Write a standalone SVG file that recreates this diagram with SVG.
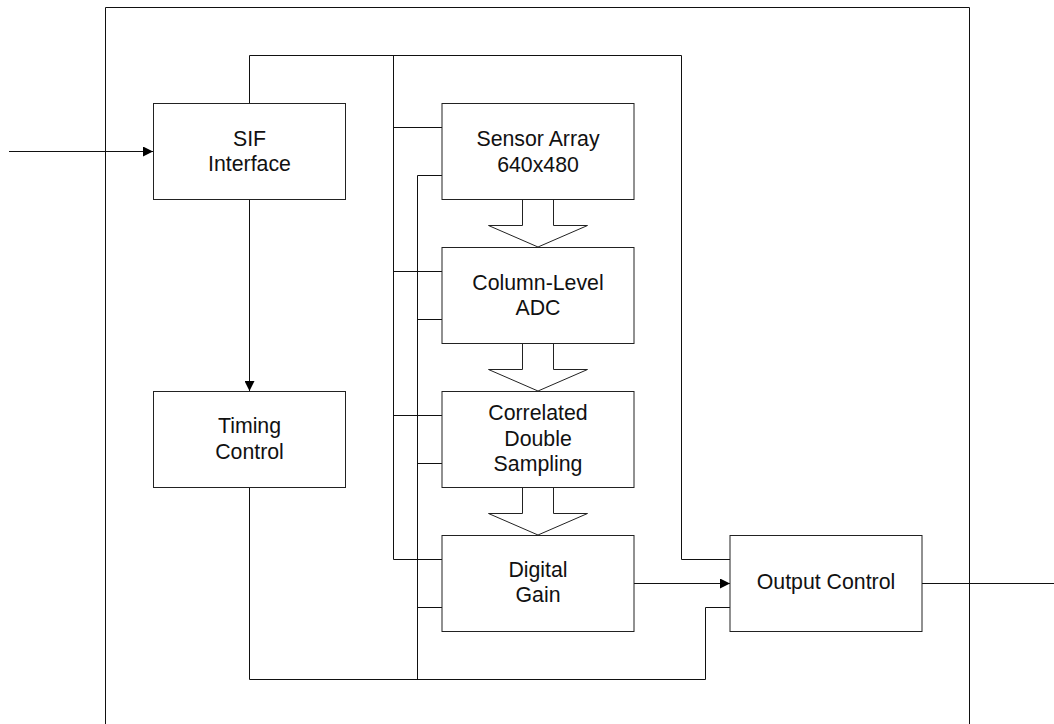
<svg xmlns="http://www.w3.org/2000/svg" width="1054" height="724" viewBox="0 0 1054 724">
<defs>
<style>
.box{fill:#fff;stroke:#222;stroke-width:1}
.w{fill:none;stroke:#111;stroke-width:1}
.ba{fill:#fff;stroke:#222;stroke-width:1;stroke-linejoin:miter}
text{font-family:"Liberation Sans",Arial,sans-serif;font-size:21.3px;fill:#111;text-anchor:middle}
</style>
<marker id="ah" viewBox="0 0 10 10" refX="10" refY="5" markerWidth="10" markerHeight="10" markerUnits="userSpaceOnUse" orient="auto">
<path d="M0,0 L10,5 L0,10 z" fill="#000"/>
</marker>
</defs>
<rect x="0" y="0" width="1054" height="724" fill="#fff"/>
<g id="frame">
<path class="w" d="M105.5,730 V7.5 H969.5 V730"/>
</g>
<g id="connectors">
<path class="w" d="M9,151.5 H153" marker-end="url(#ah)"/>
<path class="w" d="M249.5,103 V55.5 H681.5 V559.5 H730"/>
<path class="w" d="M393.5,55.5 V559.5"/>
<path class="w" d="M393.5,127.5 H442 M393.5,271.5 H442 M393.5,415.5 H442 M393.5,559.5 H442"/>
<path class="w" d="M442,175.5 H417.5 V679.5"/>
<path class="w" d="M417.5,319.5 H442 M417.5,463.5 H442 M417.5,607.5 H442"/>
<path class="w" d="M249.5,199 V391" marker-end="url(#ah)"/>
<path class="w" d="M249.5,487 V679.5 H705.5 V607.5 H730"/>
<path class="w" d="M633,583.5 H730" marker-end="url(#ah)"/>
<path class="w" d="M922,583.5 H1054"/>
<path class="ba" d="M522.5,199 V225.5 H488.5 L538,247 L587.5,225.5 H553.5 V199"/>
<path class="ba" d="M522.5,343 V369.5 H488.5 L538,391 L587.5,369.5 H553.5 V343"/>
<path class="ba" d="M522.5,487 V513.5 H488.5 L538,535 L587.5,513.5 H553.5 V487"/>
</g>
<g id="sif">
<rect class="box" x="153.5" y="103.5" width="192" height="96"/>
<text x="249.5" y="145.5">SIF</text>
<text x="249.5" y="171">Interface</text>
</g>
<g id="timing">
<rect class="box" x="153.5" y="391.5" width="192" height="96"/>
<text x="249.5" y="433">Timing</text>
<text x="249.5" y="459">Control</text>
</g>
<g id="sensor">
<rect class="box" x="442" y="103.5" width="192" height="96"/>
<text x="538" y="146">Sensor Array</text>
<text x="538" y="171.5">640x480</text>
</g>
<g id="adc">
<rect class="box" x="442" y="247.5" width="192" height="96"/>
<text x="538" y="289.5">Column-Level</text>
<text x="538" y="315">ADC</text>
</g>
<g id="cds">
<rect class="box" x="442" y="391.5" width="192" height="96"/>
<text x="538" y="419.5">Correlated</text>
<text x="538" y="445.5">Double</text>
<text x="538" y="471">Sampling</text>
</g>
<g id="gain">
<rect class="box" x="442" y="535.5" width="192" height="96"/>
<text x="538" y="577">Digital</text>
<text x="538" y="602">Gain</text>
</g>
<g id="output">
<rect class="box" x="730" y="535.5" width="192" height="96"/>
<text x="826" y="588.5">Output Control</text>
</g>
</svg>
